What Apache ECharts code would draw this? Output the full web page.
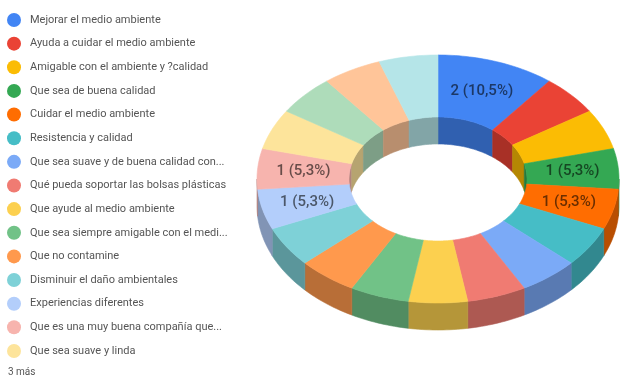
<!DOCTYPE html>
<html>
<head>
<meta charset="utf-8">
<style>html,body{margin:0;padding:0;background:#fff}#chart{width:621px;height:378px}</style>
<script src="https://cdn.jsdelivr.net/npm/echarts@6/dist/echarts.min.js"></script>
</head>
<body>
<div id="chart"></div>
<script>
// Survey answers, in clockwise order from twelve o'clock
const categories = [
  'Mejorar el medio ambiente',
  'Ayuda a cuidar el medio ambiente',
  'Amigable con el ambiente y ?calidad',
  'Que sea de buena calidad',
  'Cuidar el medio ambiente',
  'Resistencia y calidad',
  'Que sea suave y de buena calidad con...',
  'Qué pueda soportar las bolsas plásticas',
  'Que ayude al medio ambiente',
  'Que sea siempre amigable con el medi...',
  'Que no contamine',
  'Disminuir el daño ambientales',
  'Experiencias diferentes',
  'Que es una muy buena compañía que...',
  'Que sea suave y linda',
  'Otra respuesta A',
  'Otra respuesta B',
  'Otra respuesta C'
];
const values = [2, 1, 1, 1, 1, 1, 1, 1, 1, 1, 1, 1, 1, 1, 1, 1, 1, 1];
const colors = [
  '#4285f4', '#ea4335', '#fbbc04', '#34a853', '#ff6d01', '#46bdc6',
  '#7baaf7', '#f07b72', '#fcd04f', '#71c287', '#ff994d', '#7ed1d7',
  '#b3cefb', '#f7b4ae', '#fde49b', '#aedcba', '#ffc599', '#b5e5e8'
];
const labelled = [0, 3, 4, 12, 13];
const legendCount = 15;
const moreLabel = '3 más';

// Ring geometry in pixels: a flattened annulus with an extruded wall
const ring = { cx: 438, cy: 179, rx: 181, ry: 124, innerRx: 89, innerRy: 62, depth: 27 };

const total = values.reduce((a, b) => a + b, 0);
const starts = values.map((_, i) => values.slice(0, i).reduce((a, b) => a + b, 0));
const toAngle = v => (v / total) * Math.PI * 2;

const onEllipse = (a, rx, ry, dy) => [
  ring.cx + rx * Math.sin(a),
  ring.cy - ry * Math.cos(a) + (dy || 0)
];

function arc(a0, a1, rx, ry, dy) {
  const steps = Math.max(2, Math.ceil(Math.abs(a1 - a0) / 0.02));
  const pts = [];
  for (let i = 0; i <= steps; i++) {
    pts.push(onEllipse(a0 + (a1 - a0) * i / steps, rx, ry, dy));
  }
  return pts;
}

function darken(hex, k) {
  const n = parseInt(hex.slice(1), 16);
  const c = [n >> 16 & 255, n >> 8 & 255, n & 255].map(v => Math.round(v * k));
  return `rgb(${c[0]},${c[1]},${c[2]})`;
}

const poly = (points, fill) => ({
  type: 'polygon',
  shape: { points },
  style: { fill, stroke: fill, lineWidth: 0.6 }
});

// Walls: the outer one shows on the near half, the inner one on the far half
function renderWalls(params, api) {
  const a0 = toAngle(api.value(0));
  const a1 = toAngle(api.value(0) + api.value(1));
  const shade = darken(colors[params.dataIndex], 0.72);
  const children = [];
  const outer0 = Math.max(a0, Math.PI / 2);
  const outer1 = Math.min(a1, Math.PI * 1.5);
  if (outer1 > outer0) {
    children.push(poly(
      arc(outer0, outer1, ring.rx, ring.ry, 0)
        .concat(arc(outer1, outer0, ring.rx, ring.ry, ring.depth)),
      shade
    ));
  }
  [[a0, Math.min(a1, Math.PI / 2)], [Math.max(a0, Math.PI * 1.5), a1]].forEach(([s, e]) => {
    if (e > s) {
      children.push(poly(
        arc(s, e, ring.innerRx, ring.innerRy, 0)
          .concat(arc(e, s, ring.innerRx, ring.innerRy, ring.depth)),
        shade
      ));
    }
  });
  return { type: 'group', children };
}

// Top face of one slice
function renderTop(params, api) {
  const a0 = toAngle(api.value(0));
  const a1 = toAngle(api.value(0) + api.value(1));
  return poly(
    arc(a0, a1, ring.rx, ring.ry, 0).concat(arc(a1, a0, ring.innerRx, ring.innerRy, 0)),
    api.visual('color')
  );
}

// Value labels sit halfway across the ring, at each slice's middle angle
function renderLabel(params, api) {
  const i = api.value(0);
  const mid = toAngle(starts[i] + values[i] / 2);
  const [x, y] = onEllipse(mid, (ring.rx + ring.innerRx) / 2, (ring.ry + ring.innerRy) / 2);
  const pct = (values[i] / total * 100).toFixed(1).replace('.', ',');
  return {
    type: 'text',
    x, y,
    style: {
      text: `${values[i]} (${pct}%)`,
      fill: darken(colors[i], 0.42),
      font: '500 15px Roboto, sans-serif',
      align: 'center',
      verticalAlign: 'middle'
    }
  };
}

const series = [{
  type: 'custom',
  name: 'paredes',
  coordinateSystem: 'none',
  silent: true,
  z: 1,
  renderItem: renderWalls,
  data: values.map((v, i) => [starts[i], v])
}];
categories.forEach((name, i) => {
  series.push({
    type: 'custom',
    name,
    coordinateSystem: 'none',
    silent: true,
    z: 2,
    itemStyle: { color: colors[i] },
    renderItem: renderTop,
    data: [[starts[i], values[i]]]
  });
});
series.push({
  type: 'custom',
  name: 'etiquetas',
  coordinateSystem: 'none',
  silent: true,
  z: 3,
  renderItem: renderLabel,
  data: labelled.map(i => [i])
});

const chart = echarts.init(document.getElementById('chart'), null, { renderer: 'canvas' });
chart.setOption({
  animation: false,
  backgroundColor: '#fff',
  legend: {
    orient: 'vertical',
    left: 7,
    top: 13,
    padding: 0,
    itemWidth: 14,
    itemHeight: 14,
    itemGap: 9.64,
    icon: 'circle',
    selectedMode: false,
    data: categories.slice(0, legendCount),
    textStyle: { color: '#555', fontFamily: 'Roboto, sans-serif', fontSize: 11, padding: [0, 0, 0, 4] }
  },
  graphic: [{
    type: 'text',
    left: 8,
    top: 367,
    style: { text: moreLabel, fill: '#555', font: '10px Roboto, sans-serif' }
  }],
  series
});
</script>
</body>
</html>
